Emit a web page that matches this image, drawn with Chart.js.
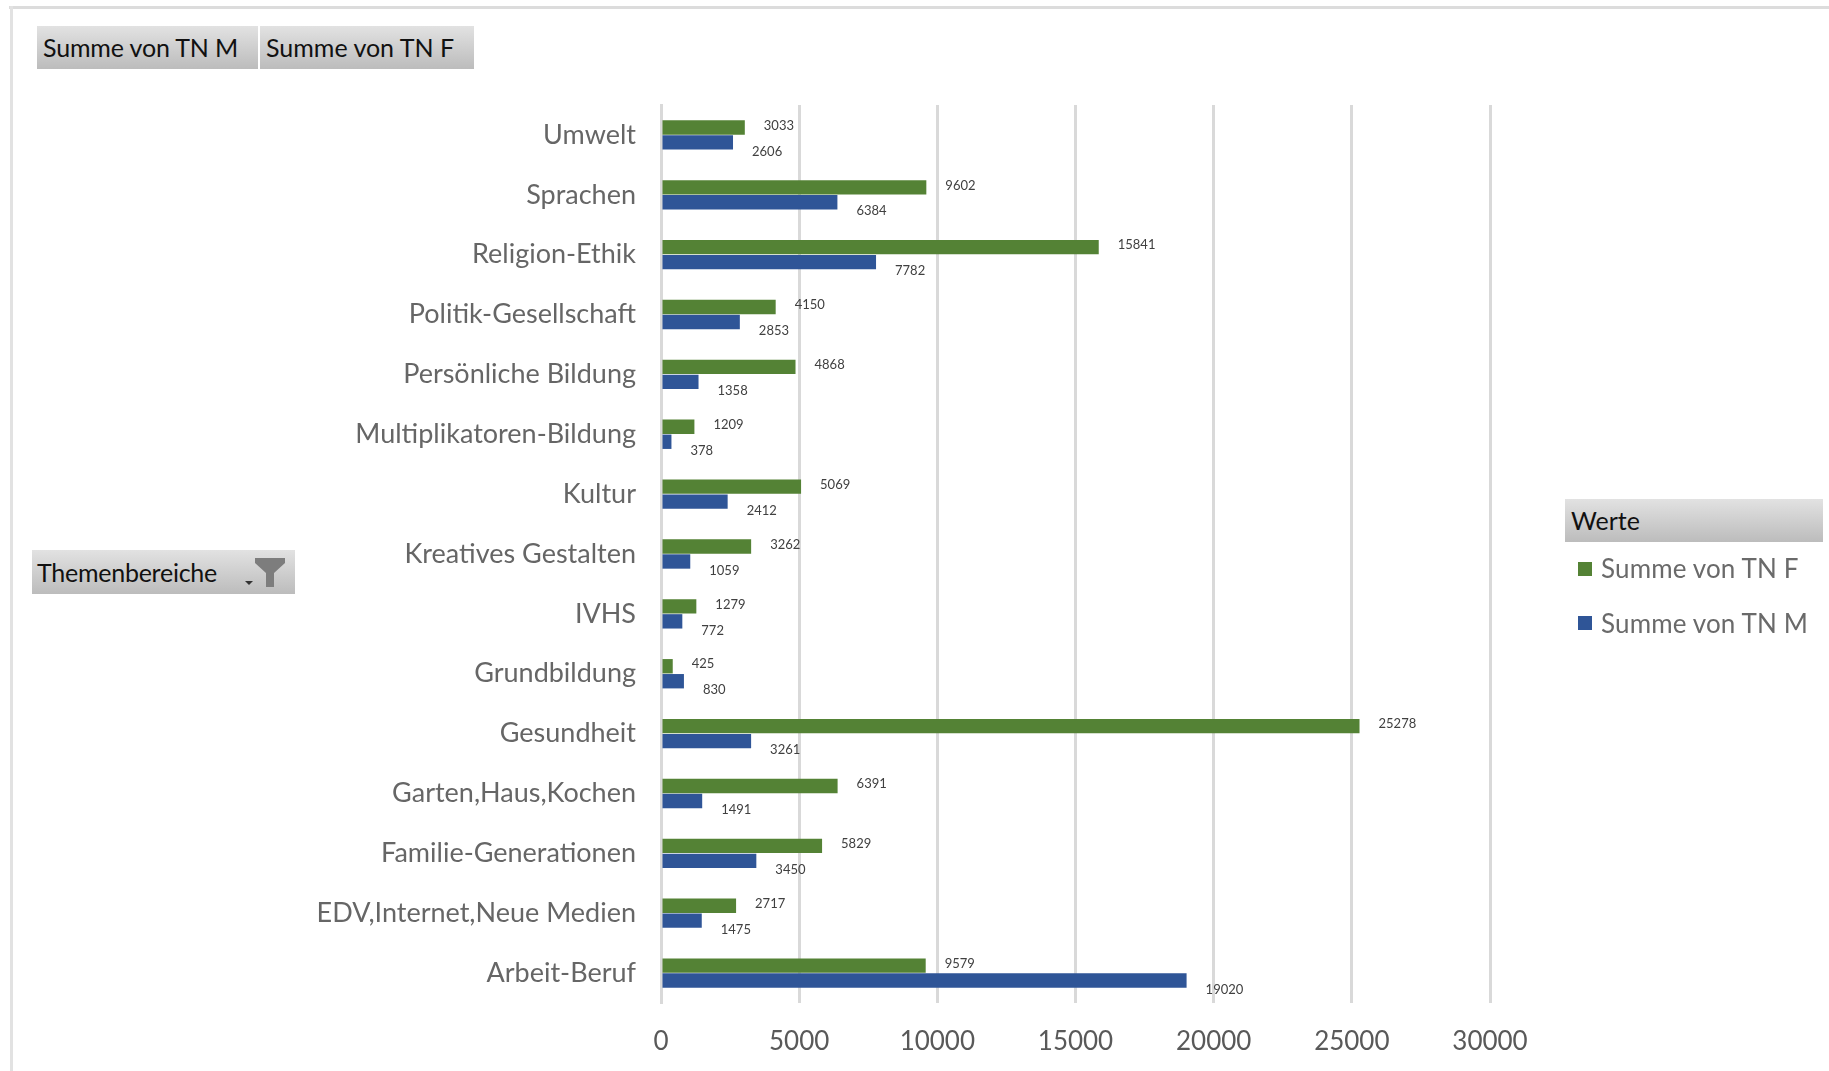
<!DOCTYPE html>
<html lang="de">
<head>
<meta charset="utf-8">
<title>Summe von TN nach Themenbereichen</title>
<script src="https://cdn.jsdelivr.net/npm/chart.js@4"></script>
<style>
html,body{margin:0;padding:0;background:#fff;width:1829px;height:1071px;overflow:hidden}
#wrap{position:absolute;left:0;top:0;width:1829px;height:1071px}
#frameT{position:absolute;left:9px;top:6px;right:0;height:3px;background:#dcdcdc}
#frameL{position:absolute;left:10px;top:6px;bottom:0;width:3px;background:#e2e2e2}
.btn{position:absolute;background:linear-gradient(#e2e2e2,#bcbcbc);color:#111;font-family:Lato,sans-serif;font-size:25px;line-height:1;display:flex;align-items:center;white-space:nowrap;box-sizing:border-box}
.leg{position:absolute;color:#6a6a6a;font-family:Lato,sans-serif;font-size:26px;line-height:1;white-space:nowrap}
.sw{position:absolute;width:14px;height:14px}
canvas{position:absolute;left:0;top:0}
</style>
</head>
<body>
<div id="wrap">
<canvas id="c" width="1829" height="1071"></canvas>
<div id="frameT"></div><div id="frameL"></div>
<div class="btn" style="left:37px;top:26px;width:221px;height:43px;padding-left:6px;letter-spacing:-.15px" id="b1"></div>
<div class="btn" style="left:260px;top:26px;width:214px;height:43px;padding-left:6px" id="b2"></div>
<div class="btn" style="left:32px;top:550px;width:263px;height:44px;padding-left:5px;letter-spacing:-.25px">Themenbereiche
<svg style="position:absolute;left:212px;top:7px" width="48" height="30" viewBox="0 0 48 30"><path d="M1 24h8l-4 4z" fill="#333"/><path d="M11 1h30v5l-11 10v14h-8V16L11 6z" fill="#7d7d7d"/></svg></div>
<div class="btn" style="left:1565px;top:499px;width:258px;height:43px;padding-left:6px">Werte</div>
<div class="sw" style="left:1578px;top:562px" id="s1"></div><div class="leg" style="left:1601px;top:555px;letter-spacing:.15px" id="l1"></div>
<div class="sw" style="left:1578px;top:616px" id="s2"></div><div class="leg" style="left:1601px;top:610px;letter-spacing:.15px" id="l2"></div>
</div>
<script>
const categories = ["Umwelt","Sprachen","Religion-Ethik","Politik-Gesellschaft","Persönliche Bildung","Multiplikatoren-Bildung","Kultur","Kreatives Gestalten","IVHS","Grundbildung","Gesundheit","Garten,Haus,Kochen","Familie-Generationen","EDV,Internet,Neue Medien","Arbeit-Beruf"];
const tnF = [3033,9602,15841,4150,4868,1209,5069,3262,1279,425,25278,6391,5829,2717,9579];
const tnM = [2606,6384,7782,2853,1358,378,2412,1059,772,830,3261,1491,3450,1475,19020];
const seriesF = "Summe von TN F";
const seriesM = "Summe von TN M";
const colorF = "#548235";
const colorM = "#2f5597";

document.getElementById('b1').textContent = seriesM;
document.getElementById('b2').textContent = seriesF;
document.getElementById('l1').textContent = seriesF;
document.getElementById('l2').textContent = seriesM;
document.getElementById('s1').style.background = colorF;
document.getElementById('s2').style.background = colorM;

const valueLabels = {
  id:'valueLabels',
  afterDatasetsDraw(chart){
    const {ctx} = chart;
    chart.data.datasets.forEach((ds,di)=>{
      chart.getDatasetMeta(di).data.forEach((bar,i)=>{
        ctx.save();
        ctx.font = '13px Lato, sans-serif';
        ctx.fillStyle = '#404040';
        ctx.textAlign = 'left';
        ctx.textBaseline = 'middle';
        ctx.fillText(String(ds.data[i]), bar.x + 19, bar.y + (di===0 ? -2 : 9));
        ctx.restore();
      });
    });
  }
};

new Chart(document.getElementById('c'),{
  type:'bar',
  data:{labels:categories,datasets:[
    {label:seriesF,data:tnF,backgroundColor:colorF},
    {label:seriesM,data:tnM,backgroundColor:colorM}
  ]},
  plugins:[valueLabels],
  options:{
    indexAxis:'y',
    responsive:false,
    animation:false,
    barPercentage:0.96,
    categoryPercentage:0.5,
    layout:{padding:{left:0,right:339,top:105,bottom:0}},
    plugins:{legend:{display:false},tooltip:{enabled:false},title:{display:false}},
    scales:{
      x:{min:0,max:30000,
        afterFit(s){s.height=68;},
        grid:{color:'#d9d9d9',lineWidth:3,drawTicks:false},
        border:{display:false},
        ticks:{stepSize:5000,padding:23,maxRotation:0,color:'#595959',font:{family:'Lato, sans-serif',size:26},callback:v=>String(v)}},
      y:{
        afterFit(s){s.width=661;},
        grid:{display:false},
        border:{display:true,color:'#d9d9d9',width:3},
        ticks:{padding:17,autoSkip:false,color:'#666',font:{family:'Lato, sans-serif',size:27}}}
    }
  }
});
</script>
</body>
</html>
